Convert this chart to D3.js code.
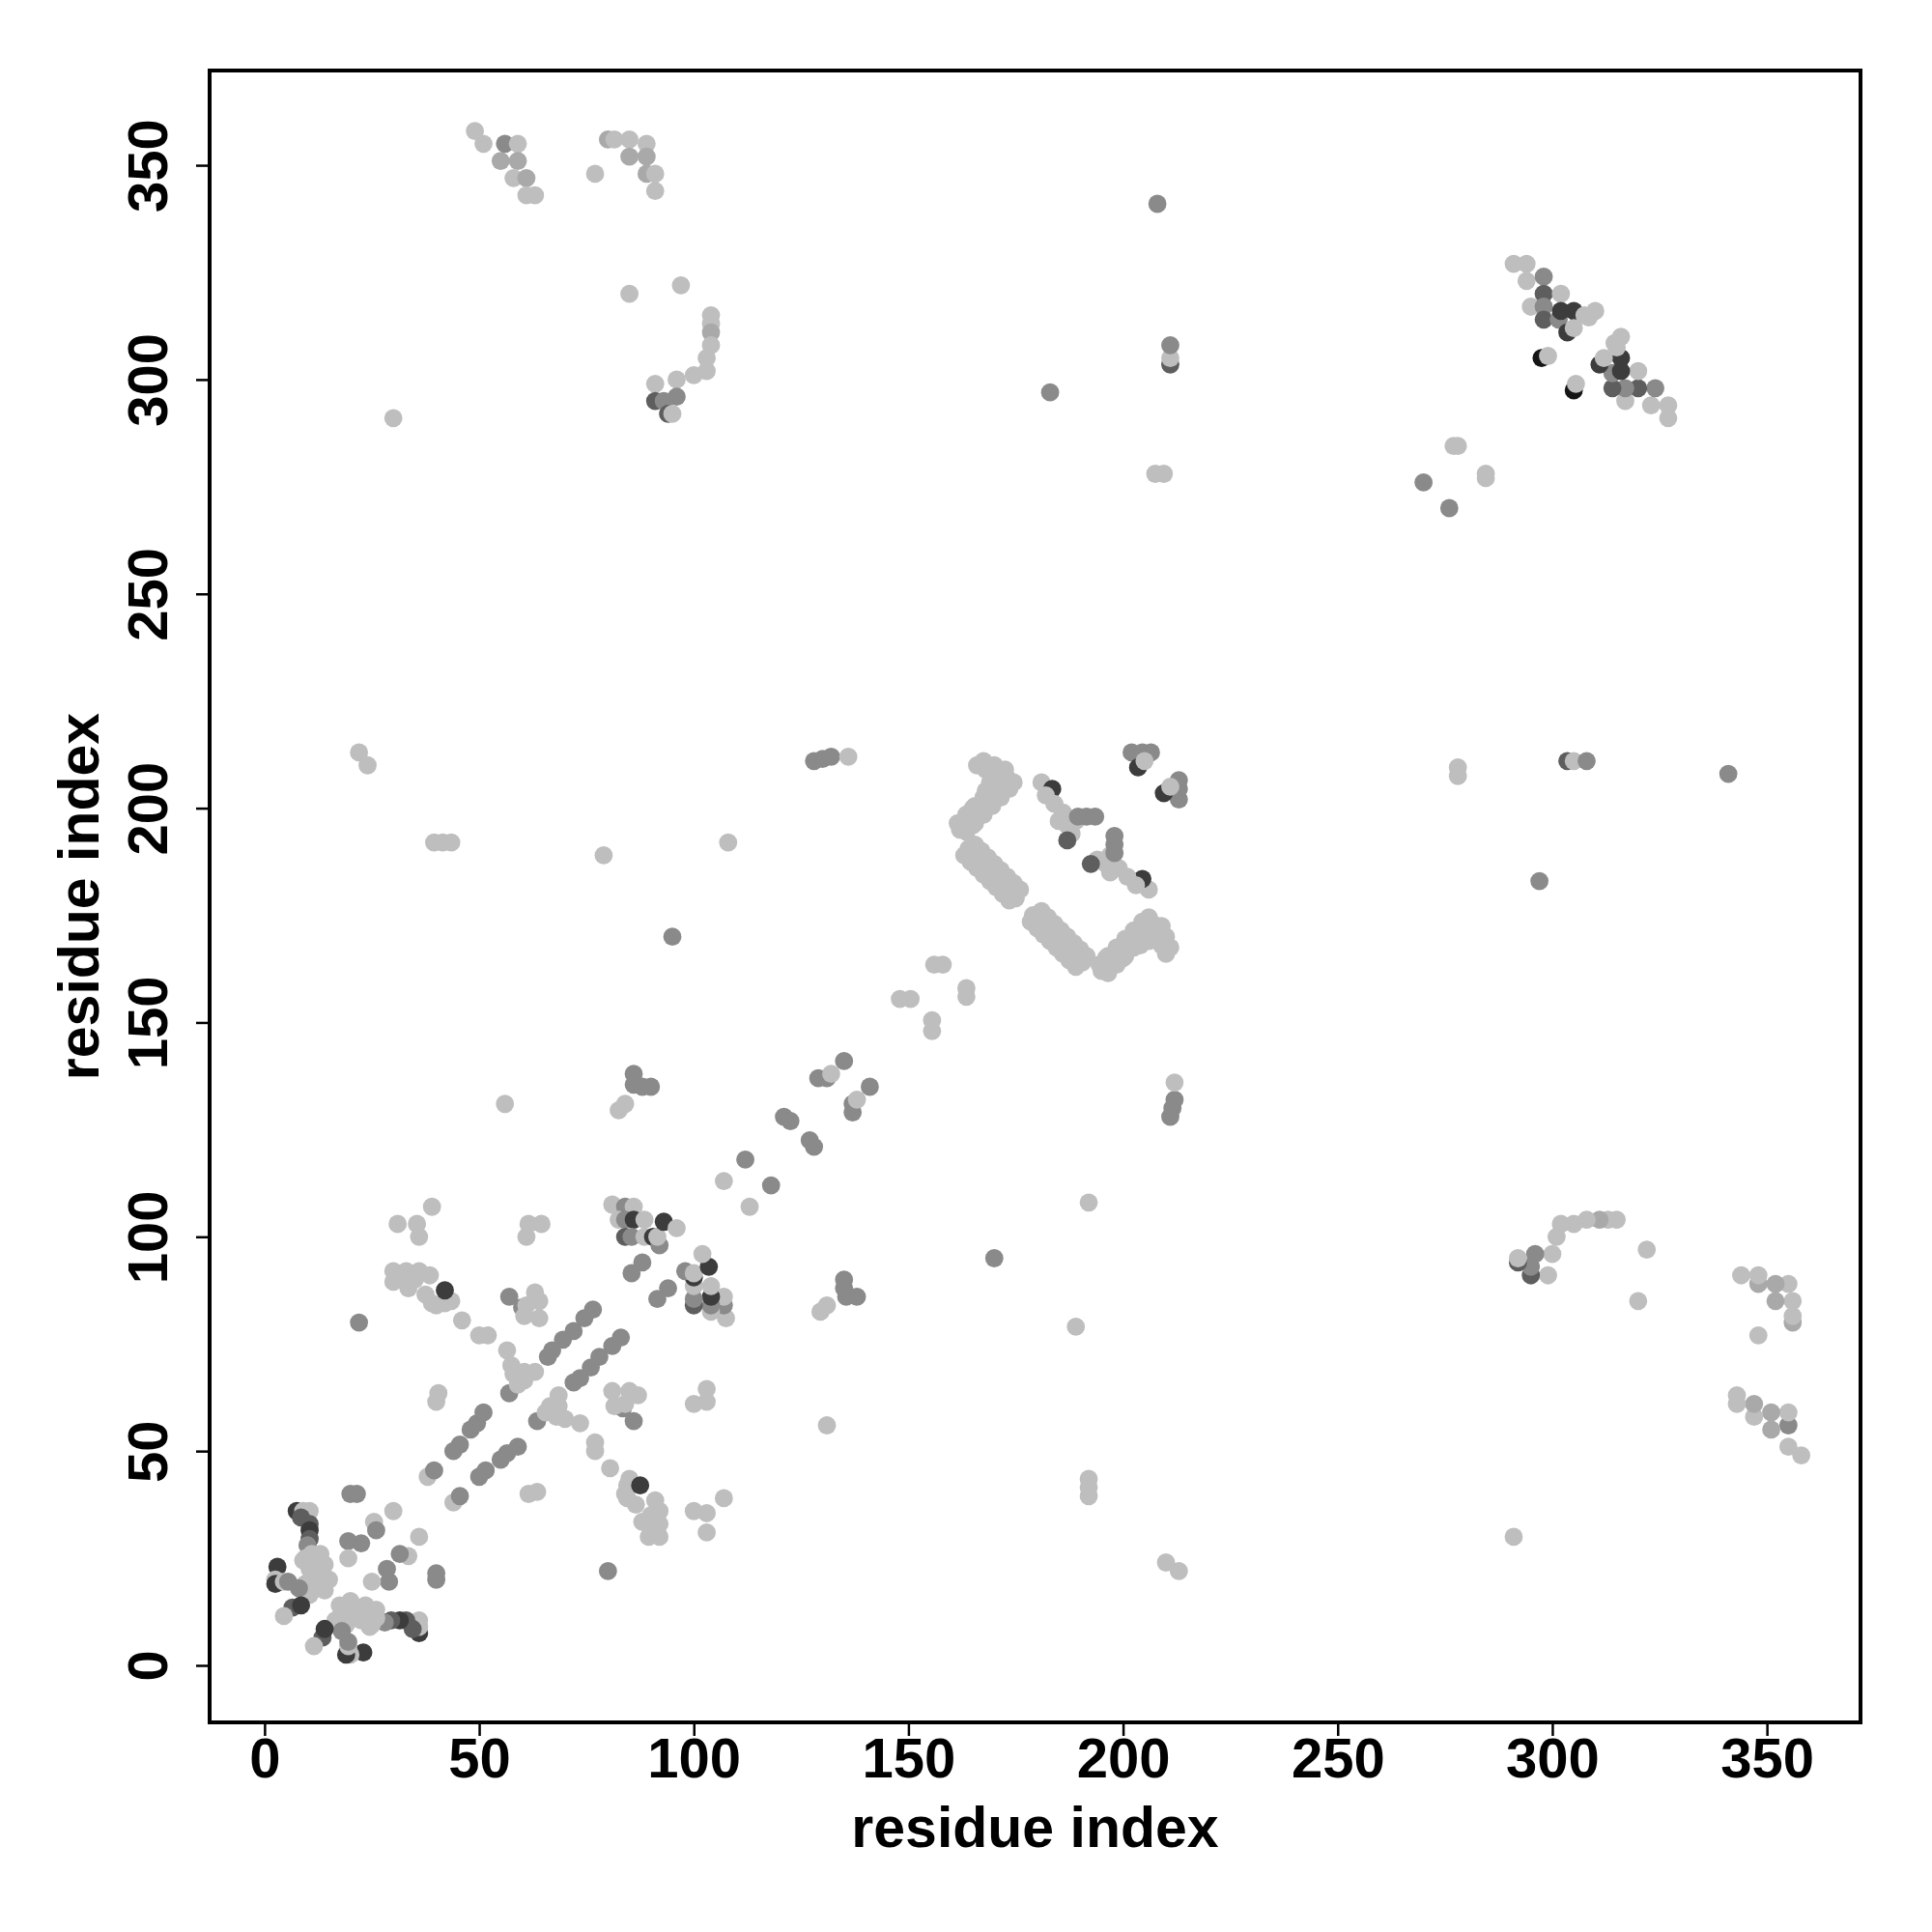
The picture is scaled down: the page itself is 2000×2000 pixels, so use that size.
<!DOCTYPE html>
<html><head><meta charset="utf-8">
<script src="https://cdn.jsdelivr.net/npm/d3@7"></script>
<style>body{margin:0;background:#fff} svg{display:block}</style>
</head><body><svg id="c" width="2000" height="2000"></svg>
<script>
// ---- DATA ----
const axisTicks = [0, 50, 100, 150, 200, 250, 300, 350];
const axisTitle = "residue index";
const grayLevels = ["#bebebe", "#a9a9a9", "#8a8a8a", "#5e5e5e", "#3c3c3c", "#151515"];

// contacts as [residue i, residue j, score level]; the map is symmetric (i,j) & (j,i)
const contactsNterm = [
  [7.5,36,4],[9,36,0],[10.5,36,0],[8.5,34.5,3],[10.5,33,3],[10.5,31.5,4],[10.5,29.5,3],[10,28,2],
  [9.5,25,0],[12,24,0],[14,23.5,0],[10.5,22.5,0],[11,21,0],[13.5,21,0],[9.5,19,0],[12.5,18,0],[10.5,16.5,0],[14,17.5,0],[9,24.5,0],[12,20,0],[11,26,0],[13,26,0],[15,20,0],
  [3,23,4],[2.5,20,0],[2.5,19,4],[4.5,19.5,0],[5.5,19.5,2],[8,18,2],[6.5,13.5,3],[4.5,11.5,0],[8.5,14,4],
  [20,40,2],[21.5,40,2],[30,36,0],[25.5,33.5,0],[26,31.5,2],[22.5,28.5,2],[19.5,29,2],[19.5,25,0]
];
const contactsStrands = [
  [38,44,0],[39.5,45.5,2],[44,50,2],[45.5,51.5,2],[48,55,2],[49.5,56.5,2],[51,59,2],[57,63.5,2],[40,61.5,0],[40.5,63.5,0],
  [66,72,2],[67,73.5,2],[69.5,76,2],[72,78,2],[74.5,81,2],[76.5,83,2],[85.5,91.5,2],[88,94,2],
  [56.5,73.5,0],[57.5,70,0],[60.5,68.5,0],[63,68.5,0],[59,65.5,0],[60.5,66.5,0],[58,68,0],
  [52,77,0],[50,77,0],[46,80.5,0],[22,80,2],
  [57,86,2],[60,83.5,2],[63,87,0],[60.5,81.5,0],[64,81,0],[64,85,0],[61,84,0],
  [30,92,0],[33,92,0],[36,92,0],[38.5,91,0],[30,89.5,0],[33.5,88,0],[37.5,86.5,0],[39,84.5,0],[42,84.5,0],[43.5,85,0],[35,90,0],[31.5,90.5,0],[40,84,0],[42,87.5,4],
  [39,107,0],[31,103,0],[35.5,103,0],[36,100,0],
  [61.5,103,0],[64.5,103,0],[61,100,0],
  [81,107.5,0],[84,107,2],[86,107,0],[82.5,104,0],[84,104,2],[86,104,4],[88.5,104,0],[84,100,3],[85.5,100,2],[88.5,100,0],[90.5,100,4],[92,98,2],[91.5,100,0],[93,103.5,4],[96,102,0]
];
const contactsDiagonal = [
  [107,113,0],[112,118,2],[121,128,2],[122.5,127,2],[129,137,2],[131,137,2],[132,138,0],[135,141,2],
  [148,155.5,0],[150.5,155.5,0],[156,163.5,0],[158,163.5,0]
];
const contactsMiddle = [
  [82.5,129.5,0],[84,131,0],[86,138,2],[86,135.5,2],[88,135,2],[90,135,2],
  [56,131,0],[95,170,2],[79,189,0],[108,192,0],[39.5,192,0],[41.5,192,0],[43.5,192,0],[22,213,0],[24,210,0],
  [128,211,2],[130,211.5,2],[132,212,2],[136,212,0]
];
const contactsSheet = [
  [202,213,2],[204.5,213,2],[206.5,213,2],[203.5,209.5,4],[205,211,0],
  [181,206,0],[183.5,204.5,4],[182,203,0],[184,201,0],[186,199,0],[185,197,0],[187,196,0],[189,197,0],[188,194,0],[187,192.5,3],[189.5,198,2],[191.5,198,2],[193.5,198,2],
  [175,179,0],[173.5,180.5,0],[172,182,0],[171,183.5,0],[170,185,0],[168.5,186,0],[167,187.5,0],[165.5,189,0],[164,190.5,0],
  [176,181,0],[174.5,182.5,0],[173,184,0],[171.5,185.5,0],[170,187,0],[168.5,188.5,0],[167,190,0],[165.5,191.5,0],
  [173.5,178.5,0],[172,180,0],[170.5,181.5,0],[169,183,0],[167.5,184.5,0],[166,186,0],[164.5,187.5,0],[163,189,0],
  [162,195,0],[164,197,0],[166,199,0],[168,201,0],[170,203,0],[172,205,0],
  [163.5,194.5,0],[165.5,196.5,0],[167.5,198.5,0],[169.5,200.5,0],[171.5,202.5,0],[173.5,204.5,0],
  [161.5,196.5,0],[163.5,198.5,0],[165.5,200.5,0],[167.5,202.5,0],[169.5,204.5,0],[171,206,0],
  [173,207,0],[171,208,0],[168,209,0],[166,210,0],[174.5,206,0],[172.5,209,0],[170,210,0],[167.5,211,0],[165,196,0],[165,200,0],[168,204,0],[169,206,0]
];
const contactsCterm = [
  [291,327,0],[294,327,0],[294,323,0],[298,324,2],[298,320,3],[302,320,0],[295,317,0],[298,317,2],[298,314,3],[301.5,314,2],[302,316,4],[305,316,4],[307.5,315,0],[310,316,0],[303.5,311,4],[305,312,0],[308.5,314.5,0],[297.5,305,5],[299,305.5,0],
  [277,284.5,0],[278,284.5,0],[270,276,2],
  [30,291,0],[183,297,2],[207.5,278,0],[209.5,278,0],[211,303.5,3],[211,305,0],[211,308,2],[208,341,2]
];
const contactsLongRange = [
  [49,358,0],[51,355,0],[56,355,2],[59,355,0],[55,351,1],[59,351,1],[58,347,0],[61,347,1],[61,343,0],[63,343,0],
  [80,356,1],[81.5,356,0],[85,356,0],[89,355,0],[85,352,1],[89,352,1],[89,348,1],[91,348,0],[91,344,0],[77,348,0],
  [85,320,0],[97,322,0],[104,315,0],[104,313,0],[104,311,1],[104,308,0],[103,305,0],[103,302,0],[100,301,0],[96,300,0],[91,299,0],[91,295,3],[96,296,2],[93,295,2],[94,292,3],[95,292,0]
];

// ---- CHART ----
const W = 2000, H = 2000;
const box = {left: 217, top: 73, right: 1926, bottom: 1783};
const svg = d3.select("#c");
svg.append("rect").attr("width", W).attr("height", H).attr("fill", "#fff");

const x = d3.scaleLinear().domain([-12.8, 371.8]).range([box.left, box.right]);
const y = d3.scaleLinear().domain([-13.3, 372.1]).range([box.bottom, box.top]);
const color = d3.scaleOrdinal().domain([0,1,2,3,4,5]).range(grayLevels);

const contacts = [].concat(contactsNterm, contactsStrands, contactsDiagonal, contactsMiddle,
                           contactsSheet, contactsCterm, contactsLongRange);
const points = contacts.flatMap(c => [{i: c[0], j: c[1], s: c[2]}, {i: c[1], j: c[0], s: c[2]}]);

svg.append("g").selectAll("circle").data(points).join("circle")
  .attr("cx", d => x(d.i)).attr("cy", d => y(d.j)).attr("r", 9.4)
  .attr("fill", d => color(d.s));

const font = "'Liberation Sans', Arial, Helvetica, sans-serif";

const xAxis = svg.append("g").attr("transform", `translate(0,${box.bottom})`)
  .call(d3.axisBottom(x).tickValues(axisTicks).tickSize(14).tickPadding(2).tickFormat(d3.format("d")));
xAxis.select(".domain").remove();
xAxis.selectAll("line").attr("stroke", "#000").attr("stroke-width", 2.5);
xAxis.selectAll("text").attr("font-family", font).attr("font-weight", "bold").attr("font-size", 58).attr("fill", "#000");

const yAxis = svg.append("g").attr("transform", `translate(${box.left},0)`)
  .call(d3.axisLeft(y).tickValues(axisTicks).tickSize(14).tickFormat(d3.format("d")));
yAxis.select(".domain").remove();
yAxis.selectAll("line").attr("stroke", "#000").attr("stroke-width", 2.5);
yAxis.selectAll("text").attr("font-family", font).attr("font-weight", "bold").attr("font-size", 58).attr("fill", "#000")
  .attr("x", 0).attr("y", -44).attr("dy", 0).attr("transform", "rotate(-90)").attr("text-anchor", "middle");

svg.append("rect").attr("x", box.left).attr("y", box.top)
  .attr("width", box.right - box.left).attr("height", box.bottom - box.top)
  .attr("fill", "none").attr("stroke", "#000").attr("stroke-width", 4);

svg.append("text").attr("x", (box.left + box.right) / 2).attr("y", 1912)
  .attr("text-anchor", "middle").attr("font-family", font).attr("font-weight", "bold")
  .attr("font-size", 59).text(axisTitle);
svg.append("text").attr("transform", `translate(102,${(box.top + box.bottom) / 2}) rotate(-90)`)
  .attr("text-anchor", "middle").attr("font-family", font).attr("font-weight", "bold")
  .attr("font-size", 59).text(axisTitle);
</script></body></html>
